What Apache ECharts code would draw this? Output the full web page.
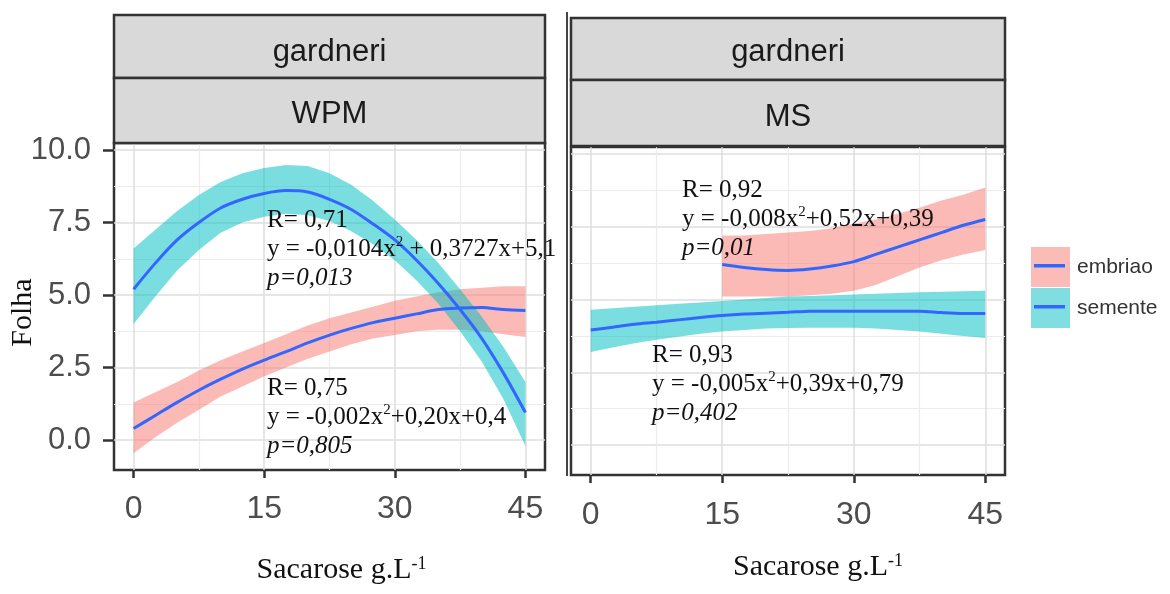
<!DOCTYPE html>
<html>
<head>
<meta charset="utf-8">
<title>Folha x Sacarose - gardneri</title>
<script src="https://cdn.jsdelivr.net/npm/echarts@6/dist/echarts.min.js"></script>
<style>
  html, body { margin: 0; padding: 0; background: #fff; }
  #chart { width: 1170px; height: 594px; }
</style>
</head>
<body>
<div id="chart"></div>
<script>
// sacarose levels (g/L) where the fitted curves were read
var sacarose = [0, 2.5, 5, 7.5, 10, 12.5, 15, 17.5, 20, 22.5, 25, 27.5, 30, 32.5, 35, 37.5, 40, 42.5, 45];
var sacaroseMsEmbriao = [15, 17.5, 20, 22.5, 25, 27.5, 30, 32.5, 35, 37.5, 40, 42.5, 45];

// WPM - semente
var wpmSemente = [5.2, 6.1, 6.9, 7.5, 8.0, 8.3, 8.5, 8.6, 8.55, 8.3, 7.95, 7.45, 6.9, 6.2, 5.4, 4.5, 3.5, 2.3, 0.95];
var wpmSementeLo = [4.0, 4.95, 5.85, 6.55, 7.15, 7.5, 7.7, 7.8, 7.75, 7.55, 7.2, 6.75, 6.2, 5.5, 4.7, 3.75, 2.7, 1.4, -0.2];
var wpmSementeHi = [6.6, 7.25, 7.9, 8.45, 8.9, 9.2, 9.38, 9.48, 9.45, 9.2, 8.8, 8.25, 7.6, 6.9, 6.1, 5.2, 4.25, 3.2, 2.0];

// WPM - embriao
var wpmEmbriao = [0.4, 0.85, 1.3, 1.72, 2.1, 2.45, 2.76, 3.05, 3.35, 3.62, 3.85, 4.05, 4.2, 4.35, 4.5, 4.55, 4.57, 4.5, 4.47];
var wpmEmbriaoLo = [-0.45, 0.1, 0.6, 1.05, 1.5, 1.85, 2.2, 2.5, 2.8, 3.05, 3.3, 3.5, 3.62, 3.75, 3.8, 3.8, 3.75, 3.65, 3.55];
var wpmEmbriaoHi = [1.3, 1.65, 2.0, 2.4, 2.75, 3.05, 3.35, 3.65, 3.95, 4.2, 4.4, 4.6, 4.8, 4.95, 5.1, 5.2, 5.25, 5.3, 5.3];

// MS - embriao (only 15..45)
var msEmbriao = [6.2, 6.1, 6.03, 6.0, 6.05, 6.15, 6.3, 6.55, 6.8, 7.05, 7.3, 7.55, 7.75];
var msEmbriaoLo = [5.1, 5.1, 5.1, 5.1, 5.15, 5.2, 5.3, 5.5, 5.8, 6.1, 6.35, 6.55, 6.7];
var msEmbriaoHi = [7.2, 7.2, 7.25, 7.3, 7.35, 7.45, 7.6, 7.75, 7.95, 8.15, 8.4, 8.6, 8.85];

// MS - semente
var msSemente = [3.95, 4.05, 4.15, 4.22, 4.3, 4.38, 4.45, 4.5, 4.53, 4.56, 4.6, 4.6, 4.6, 4.6, 4.6, 4.6, 4.55, 4.52, 4.52];
var msSementeLo = [3.2, 3.35, 3.5, 3.62, 3.72, 3.82, 3.9, 3.95, 4.0, 4.02, 4.03, 4.03, 4.03, 4.0, 3.95, 3.9, 3.82, 3.75, 3.68];
var msSementeHi = [4.65, 4.7, 4.75, 4.8, 4.85, 4.9, 4.95, 5.0, 5.05, 5.1, 5.12, 5.15, 5.17, 5.2, 5.22, 5.25, 5.27, 5.28, 5.3];

// ticks
var xTicks = [0, 15, 30, 45];
var xMinorTicks = [7.5, 22.5, 37.5];
var yTicks = [0, 2.5, 5, 7.5, 10];
var yMinorTicks = [1.25, 3.75, 6.25, 8.75];

var SANS = 'Liberation Sans';
var SERIF = 'Liberation Serif';
var BLUE = '#3366FF';
var PINK = 'rgba(248,118,109,0.5)';
var CYAN = 'rgba(0,191,196,0.52)';

var myChart = echarts.init(document.getElementById('chart'));

function ribbon(name, xs, lo, hi, color, idx) {
  return {
    name: name,
    type: 'custom',
    xAxisIndex: idx,
    yAxisIndex: idx,
    silent: true,
    clip: true,
    encode: { x: 0, y: [1, 2] },
    data: xs.map(function (x, i) { return [x, lo[i], hi[i]]; }),
    renderItem: function (params, api) {
      if (params.dataIndex !== 0) return;
      var top = [], bottom = [];
      for (var i = 0; i < xs.length; i++) {
        top.push(api.coord([api.value(0, i), api.value(2, i)]));
        bottom.unshift(api.coord([api.value(0, i), api.value(1, i)]));
      }
      return { type: 'polygon', shape: { points: top.concat(bottom) }, style: { fill: color } };
    }
  };
}

function fitLine(name, xs, ys, idx) {
  return {
    name: name,
    type: 'line',
    xAxisIndex: idx,
    yAxisIndex: idx,
    smooth: 0.3,
    showSymbol: false,
    silent: true,
    lineStyle: { color: BLUE, width: 3 },
    itemStyle: { color: BLUE },
    data: xs.map(function (x, i) { return [x, ys[i]]; })
  };
}

function keyIcon(fill) {
  var svg = '<svg xmlns="http://www.w3.org/2000/svg" width="39" height="40">' +
    '<rect width="39" height="40" fill="' + fill + '"/>' +
    '<rect x="3" y="17" width="31" height="3.5" fill="' + BLUE + '"/></svg>';
  return 'image://data:image/svg+xml;charset=utf-8,' + encodeURIComponent(svg);
}

function xMain(gridIndex, margin, namePad, nameGap) {
  return {
    type: 'value', gridIndex: gridIndex, min: -2.25, max: 47.25, position: 'bottom',
    name: 'Sacarose g.L{sup|-1}', nameLocation: 'middle', nameGap: nameGap, nameMoveOverlap: false,
    nameTextStyle: {
      fontFamily: SERIF, fontSize: 30, color: '#111', padding: [0, 0, 0, namePad],
      rich: { sup: { fontFamily: SERIF, fontSize: 18, color: '#111', verticalAlign: 'top', lineHeight: 18 } }
    },
    axisLine: { show: false, onZero: false },
    axisTick: { show: true, length: 8, customValues: xTicks, lineStyle: { color: '#333', width: 2.5 } },
    axisLabel: { customValues: xTicks, margin: margin, fontFamily: SANS, fontSize: 32, color: '#4d4d4d' },
    splitLine: { show: true, lineStyle: { color: '#dedede', width: 1.5 } }
  };
}

function xMinor(gridIndex) {
  return {
    type: 'value', gridIndex: gridIndex, min: -2.25, max: 47.25, position: 'top',
    axisLine: { show: false, onZero: false }, axisLabel: { show: false },
    axisTick: { show: false, customValues: xMinorTicks },
    splitLine: { show: true, lineStyle: { color: '#ececec', width: 1.2 } }
  };
}

function yMain(gridIndex, withLabels) {
  return {
    type: 'value', gridIndex: gridIndex, min: -1.03, max: 10.24, position: 'left',
    name: withLabels ? 'Folha' : '', nameLocation: 'middle', nameGap: 76, nameMoveOverlap: false,
    nameTextStyle: { fontFamily: SERIF, fontSize: 30, color: '#111', padding: [0, 12, 0, 0] },
    axisLine: { show: false, onZero: false },
    axisTick: { show: withLabels, length: 11, customValues: yTicks, lineStyle: { color: '#333', width: 2.5 } },
    axisLabel: {
      show: withLabels, customValues: yTicks, margin: 23, fontFamily: SANS, fontSize: 31, color: '#4d4d4d',
      formatter: function (v) { return v.toFixed(1); }
    },
    splitLine: { show: true, lineStyle: { color: '#dedede', width: 1.5 } }
  };
}

function yMinor(gridIndex) {
  return {
    type: 'value', gridIndex: gridIndex, min: -1.03, max: 10.24, position: 'right',
    axisLine: { show: false, onZero: false }, axisLabel: { show: false },
    axisTick: { show: false, customValues: yMinorTicks },
    splitLine: { show: true, lineStyle: { color: '#ececec', width: 1.2 } }
  };
}

function strip(x, y, w, h, label, ty) {
  return [
    { type: 'rect', z: 10, shape: { x: x, y: y, width: w, height: h },
      style: { fill: '#d9d9d9', stroke: '#333', lineWidth: 2.5 } },
    { type: 'text', z: 11, x: x + w / 2, y: ty,
      style: { text: label, fontFamily: SANS, fontSize: 31, fill: '#1a1a1a', textAlign: 'center', textVerticalAlign: 'middle' } }
  ];
}

var noteRich = {
  sup: { fontFamily: SERIF, fontSize: 15, lineHeight: 15, verticalAlign: 'top', fill: '#111' },
  it: { fontFamily: SERIF, fontSize: 25, fontStyle: 'italic', fill: '#111' }
};

function note(x, y, text) {
  return {
    type: 'text', z: 20, x: x, y: y,
    style: {
      text: text, fontFamily: SERIF, fontSize: 25, lineHeight: 29, fill: '#111',
      textVerticalAlign: 'top', rich: noteRich
    }
  };
}

var graphics = []
  .concat(strip(114, 15, 431, 63, 'gardneri', 52))
  .concat(strip(114, 78, 431, 65, 'WPM', 114))
  .concat(strip(571, 18, 434, 62, 'gardneri', 52))
  .concat(strip(571, 80, 434, 66, 'MS', 117))
  .concat([
    { type: 'line', z: 10, shape: { x1: 567, y1: 12, x2: 567, y2: 476 }, style: { stroke: '#444', lineWidth: 2 } },
    note(267, 206, 'R= 0,71\ny = -0,0104x{sup|2} + 0,3727x+5,1\n{it|p=0,013}'),
    note(267, 374, 'R= 0,75\ny = -0,002x{sup|2}+0,20x+0,4\n{it|p=0,805}'),
    note(682, 176, 'R= 0,92\ny = -0,008x{sup|2}+0,52x+0,39\n{it|p=0,01}'),
    note(652, 341, 'R= 0,93\ny = -0,005x{sup|2}+0,39x+0,79\n{it|p=0,402}')
  ]);

myChart.setOption({
  animation: false,
  backgroundColor: '#fff',
  grid: [
    { left: 114, top: 143, width: 431, height: 327, show: true, backgroundColor: '#fff',
      borderColor: '#333', borderWidth: 2.5, outerBoundsMode: 'none' },
    { left: 571, top: 147, width: 434, height: 328, show: true, backgroundColor: '#fff',
      borderColor: '#333', borderWidth: 2.5, outerBoundsMode: 'none' }
  ],
  xAxis: [xMain(0, 23, 24, 85), xMain(1, 24, 60, 77), xMinor(0), xMinor(1)],
  yAxis: [yMain(0, true), yMain(1, false), yMinor(0), yMinor(1)],
  legend: {
    orient: 'vertical', left: 1026, top: 242, itemWidth: 39, itemHeight: 40, itemGap: 1,
    selectedMode: false,
    textStyle: { fontFamily: SANS, fontSize: 21, color: '#333', padding: [0, 0, 0, 2] },
    data: [
      { name: 'embriao', icon: keyIcon('#fbbcb7') },
      { name: 'semente', icon: keyIcon('#80dee0') }
    ]
  },
  graphic: graphics,
  series: [
    ribbon('embriao', sacarose, wpmEmbriaoLo, wpmEmbriaoHi, PINK, 0),
    ribbon('semente', sacarose, wpmSementeLo, wpmSementeHi, CYAN, 0),
    ribbon('embriao', sacaroseMsEmbriao, msEmbriaoLo, msEmbriaoHi, PINK, 1),
    ribbon('semente', sacarose, msSementeLo, msSementeHi, CYAN, 1),
    fitLine('embriao', sacarose, wpmEmbriao, 0),
    fitLine('semente', sacarose, wpmSemente, 0),
    fitLine('embriao', sacaroseMsEmbriao, msEmbriao, 1),
    fitLine('semente', sacarose, msSemente, 1)
  ]
});
</script>
</body>
</html>
